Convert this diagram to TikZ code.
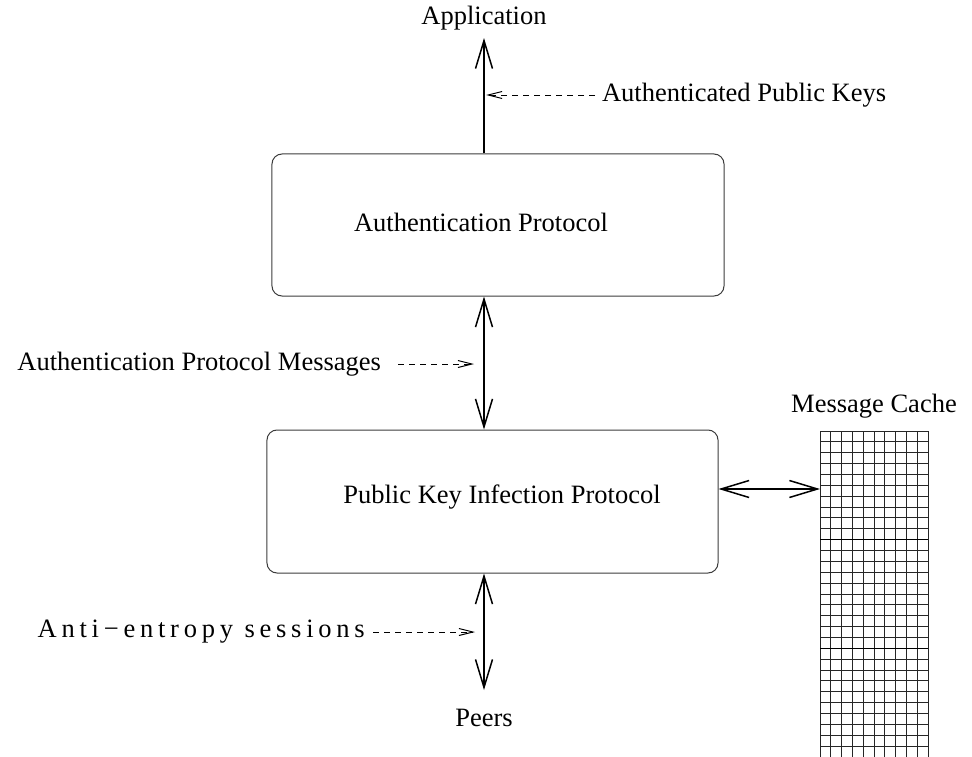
\documentclass[tikz,border=0pt]{standalone}
\usepackage{fontspec}
\setmainfont{Liberation Serif}
\usetikzlibrary{arrows.meta,positioning}
\definecolor{boxclr}{RGB}{60,60,60}
\tikzset{
  % Blocks
  protobox/.style  = {draw=boxclr, line width=0.5bp, rounded corners=5bp, inner sep=0pt},
  % Texts
  lab/.style       = {font=\fontsize{13.3}{16}\selectfont},
  widelab/.style   = {font=\fontsize{13.3}{16}\selectfont\addfontfeature{LetterSpace=18}},
  % Connectors
  barb/.tip        = {Straight Barb[length=14bp, width=8.5bp, line width=0.75bp]},
  mainline/.style  = {line width=0.75bp, black},
  notearrow/.style = {line width=0.5bp, dash pattern=on 3bp off 2.5bp,
                      -{Straight Barb[length=7bp, width=3.5bp, line width=0.5bp]}},
  % Cache grid
  cacheline/.style = {line width=0.5bp, black!85},
  cachesep/.style  = {line width=0.75bp, black},
}
\begin{document}
\begin{tikzpicture}[x=0.5bp, y=-0.5bp]
  \useasboundingbox (0,0) rectangle (972,757);
  % Protocol blocks
  \node[protobox, minimum width=226bp, minimum height=71bp] (auth) at (498,225) {};
  \node[lab] (authtxt) at (481,222) {Authentication Protocol};
  \node[protobox, minimum width=225.5bp, minimum height=71.5bp] (pkip) at (492.5,501.5) {};
  \node[lab] (pkiptxt) at (502,497) {Public Key Infection Protocol};
  % Outer labels
  \node[lab] (app) at (484,18) {Application};
  \node[lab] (peers) at (484,718) {Peers};
  \node[lab, anchor=west] (keys) at (595,95) {Authenticated Public Keys};
  \node[lab, anchor=east] (msgs) at (388,364) {Authentication Protocol Messages};
  \node[widelab, anchor=east] (anti) at (367,632) {Anti−entropy sessions\kern-2.4bp};
  \node[lab] (cache) at (874,406) {Message Cache};
  \coordinate (apptip) at (484,38);
  \coordinate (peertip) at (484,690);
  \coordinate (cachein) at (820,489);
  % Main arrows
  \draw[mainline, -{barb}] (auth.north -| apptip) -- (apptip);
  \draw[mainline, {barb}-{barb}] (auth.south -| apptip) -- (pkip.north -| apptip);
  \draw[mainline, {barb}-{barb}] (pkip.south -| peertip) -- (peertip);
  \draw[mainline, {barb}-{barb}] (cachein -| pkip.east) -- (cachein);
  % Dashed notes
  \draw[notearrow, shorten >=1bp] (keys.west) -- (keys.west -| apptip);
  \draw[notearrow, shorten <=5bp, shorten >=5bp] (msgs.east) -- (msgs.east -| apptip);
  \draw[notearrow, shorten <=3bp, shorten >=4.5bp] (anti.east) -- (anti.east -| peertip);
  % Message cache grid
  \foreach \i in {0,...,10}
    \draw[cacheline] ({820+10.8*\i},431) -- ({820+10.8*\i},757);
  \foreach \j in {0,...,30}
    \draw[cacheline] (820,{431+10.867*\j}) -- (928,{431+10.867*\j});
  \foreach \j in {10,20}
    \draw[cachesep] (820,{431+10.867*\j}) -- (928,{431+10.867*\j});
\end{tikzpicture}
\end{document}
